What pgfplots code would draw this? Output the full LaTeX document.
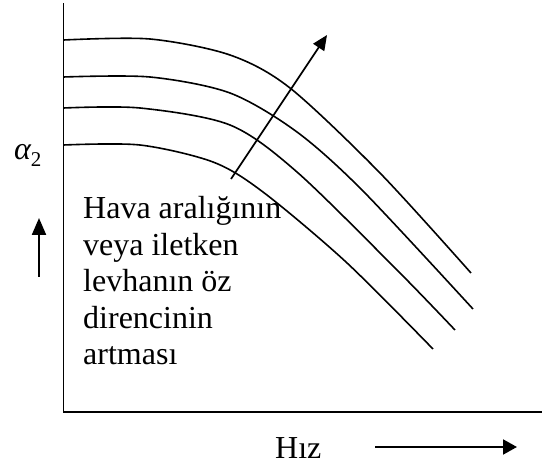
\documentclass[border=0pt]{standalone}
\usepackage{pgfplots}
\pgfplotsset{compat=1.18}
\usepackage{fontspec}
\setmainfont{Liberation Serif}
\usetikzlibrary{arrows.meta}
\begin{document}
\begin{tikzpicture}
\begin{axis}[
  scale only axis, width=478.5pt, height=409pt,
  xmin=63.5, xmax=542, ymin=57, ymax=466,
  axis lines=left, axis line style={-, line width=1.9pt, black},
  xtick=\empty, ytick=\empty,
  clip=false,
]
\addplot[black, line width=1.6pt, smooth] coordinates {(63.5,429) (150,430) (230,414) (290,381) (380,296) (471,196)};
\addplot[black, line width=1.6pt, smooth] coordinates {(63.5,392) (150,392) (230,376) (297,337) (363,278) (473,160)};
\addplot[black, line width=1.6pt, smooth] coordinates {(63.5,361) (140,361) (230,344) (297,297) (398,198) (455,139)};
\addplot[black, line width=1.6pt, smooth] coordinates {(63.5,324) (140,324) (213,307) (263,277) (346,207) (433,120)};
\draw[line width=1.8pt, -{Triangle[length=15pt, width=13pt]}] (axis cs:231,290) -- (axis cs:327,434);
\draw[line width=2.2pt, -{Triangle[length=17pt, width=14pt]}] (axis cs:39,192) -- (axis cs:39,251);
\draw[line width=1.9pt, -{Triangle[length=14pt, width=15pt]}] (axis cs:375,22) -- (axis cs:517,22);
\node[anchor=base west, inner sep=0pt, font=\fontsize{32}{36}\selectfont] at (axis cs:83,250) {Hava aralığının};
\node[anchor=base west, inner sep=0pt, font=\fontsize{32}{36}\selectfont] at (axis cs:83,213.5) {veya iletken};
\node[anchor=base west, inner sep=0pt, font=\fontsize{32}{36}\selectfont] at (axis cs:83,177) {levhanın öz};
\node[anchor=base west, inner sep=0pt, font=\fontsize{32}{36}\selectfont] at (axis cs:83,140.5) {direncinin};
\node[anchor=base west, inner sep=0pt, font=\fontsize{32}{36}\selectfont] at (axis cs:83,104) {artması};
\node[anchor=base west, inner sep=0pt, font=\fontsize{32}{36}\selectfont] at (axis cs:275,10) {Hız};
\node[anchor=base west, inner sep=0pt, font=\fontsize{32}{36}\selectfont] at (axis cs:14,309) {\itshape α\raisebox{-7pt}{\upshape\fontsize{21}{21}\selectfont 2}};
\coordinate (bl) at (axis cs:0,0);
\coordinate (tr) at (axis cs:542,469);
\end{axis}
\pgfresetboundingbox
\path (bl) rectangle (tr);
\end{tikzpicture}
\end{document}
